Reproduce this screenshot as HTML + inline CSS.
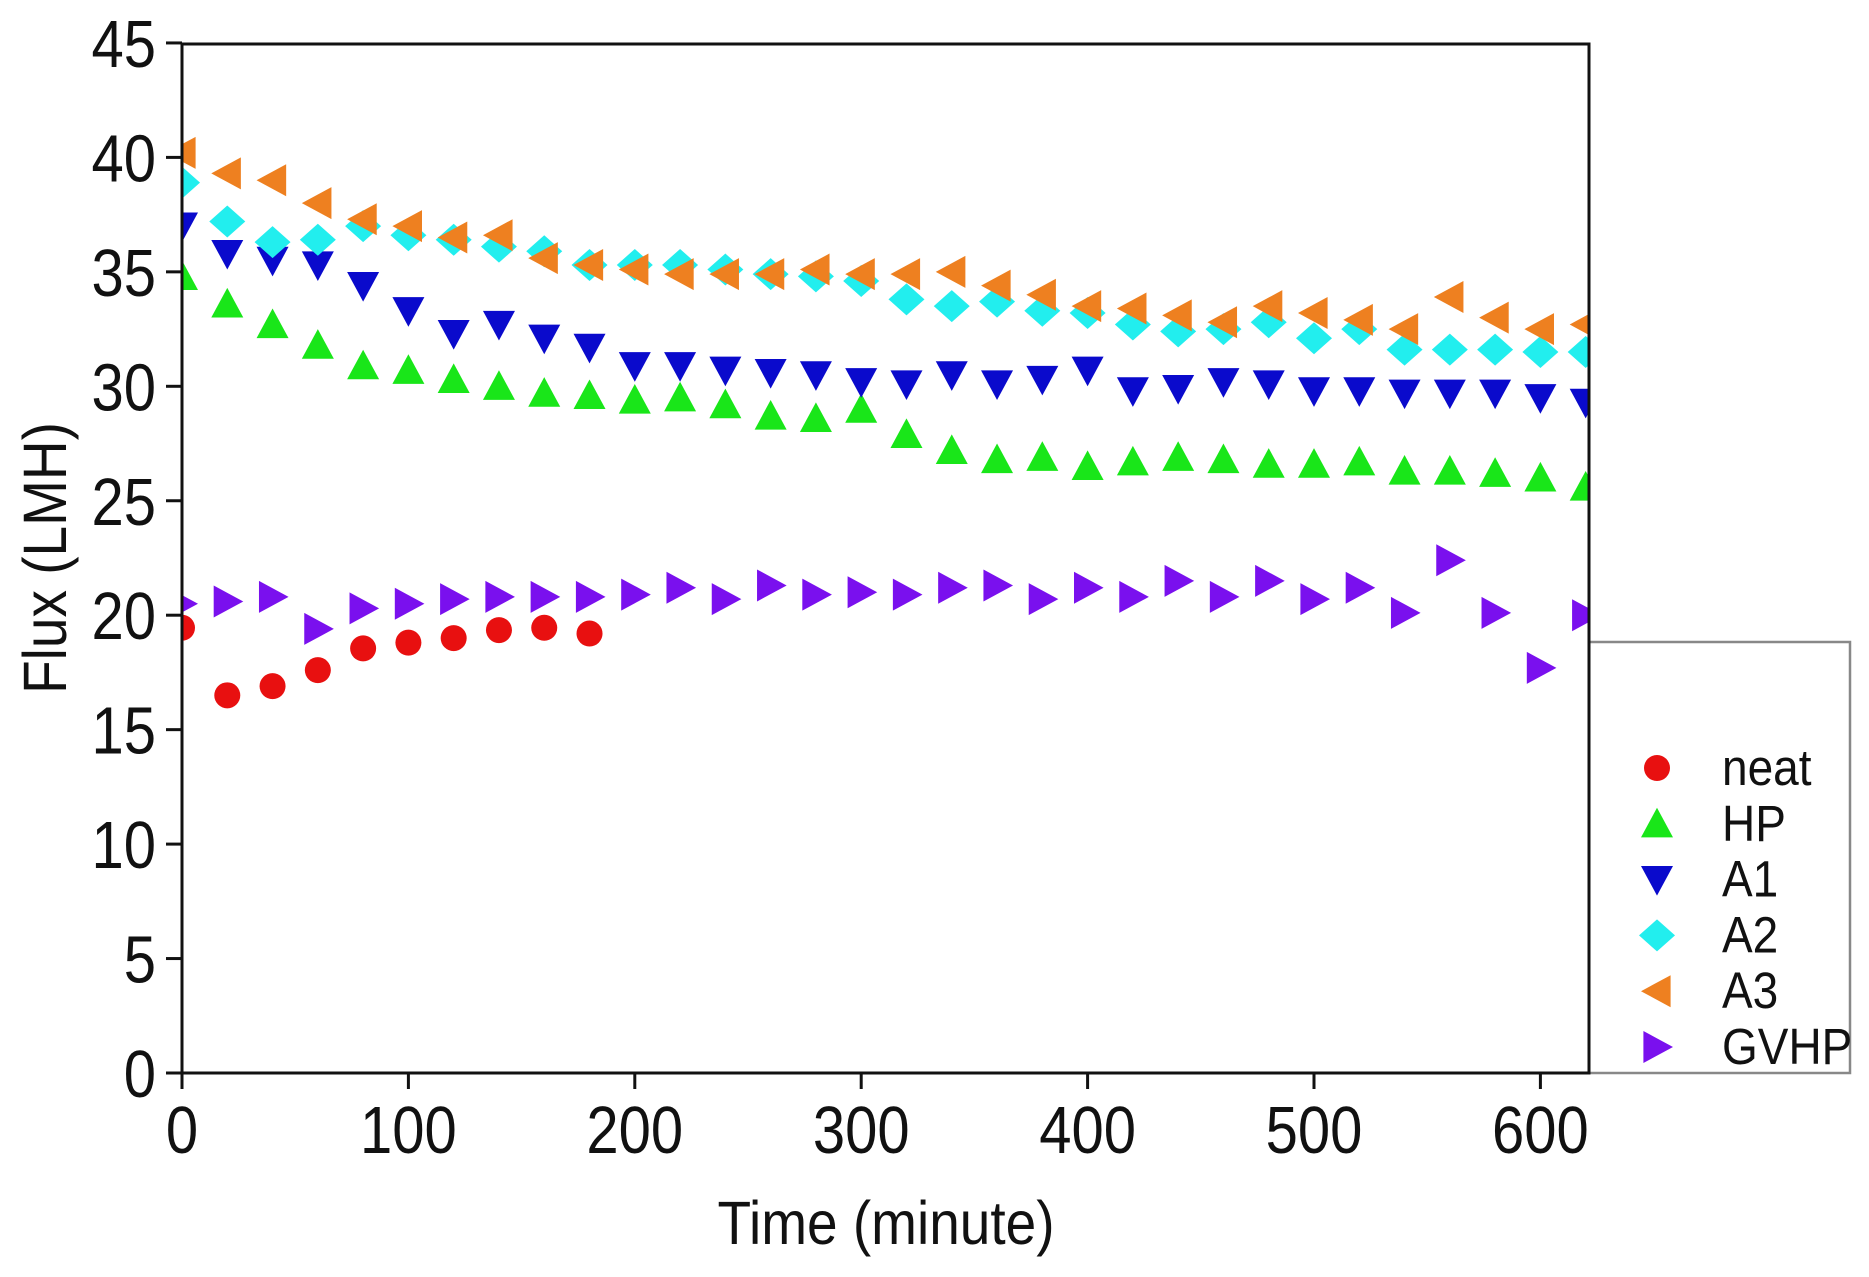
<!DOCTYPE html>
<html><head><meta charset="utf-8">
<style>
html,body{margin:0;padding:0;background:#fff;}
svg{display:block;font-family:"Liberation Sans",Arial,sans-serif;}
</style></head>
<body>
<svg id="chart" width="1869" height="1277" viewBox="0 0 1869 1277" xmlns="http://www.w3.org/2000/svg">
<defs><clipPath id="plotclip"><rect x="182" y="44" width="1407" height="1029"/></clipPath></defs>
<rect x="1589" y="642" width="261" height="431" fill="#fff" stroke="#888" stroke-width="2.5"/>
<g id="marks" clip-path="url(#plotclip)"></g>
<rect x="182" y="44" width="1407" height="1029" fill="none" stroke="#111" stroke-width="3"/>
<g id="axes"></g>
<text transform="translate(66,558) rotate(-90) scale(1,1.12)" text-anchor="middle" font-size="55" fill="#111">Flux (LMH)</text>
<text transform="translate(886,1244) scale(1,1.12)" text-anchor="middle" font-size="55" fill="#111">Time (minute)</text>
<g id="legend"></g>
</svg>
<script>
const times = [0,20,40,60,80,100,120,140,160,180,200,220,240,260,280,300,320,340,360,380,400,420,440,460,480,500,520,540,560,580,600,620];
const neat = [19.45,16.5,16.9,17.6,18.55,18.8,19.0,19.35,19.45,19.2];
const hp = [34.8,33.6,32.7,31.8,30.9,30.7,30.3,30.0,29.7,29.6,29.4,29.5,29.2,28.7,28.6,29.0,27.9,27.2,26.8,26.9,26.5,26.7,26.9,26.8,26.6,26.6,26.7,26.3,26.3,26.2,26.0,25.6];
const a1 = [37.0,35.8,35.5,35.3,34.4,33.3,32.3,32.7,32.1,31.7,30.9,30.9,30.7,30.6,30.5,30.2,30.1,30.5,30.1,30.3,30.7,29.8,29.9,30.2,30.1,29.8,29.8,29.7,29.7,29.7,29.5,29.3];
const a2 = [38.9,37.2,36.3,36.4,37.0,36.6,36.4,36.1,35.9,35.3,35.3,35.3,35.1,34.9,34.8,34.6,33.8,33.5,33.7,33.3,33.2,32.7,32.4,32.5,32.8,32.1,32.5,31.6,31.6,31.6,31.5,31.5];
const a3 = [40.2,39.3,39.0,38.0,37.3,37.0,36.5,36.6,35.6,35.3,35.1,34.9,34.9,34.9,35.1,34.9,34.9,35.0,34.4,34.0,33.5,33.4,33.1,32.8,33.5,33.2,32.9,32.5,33.9,33.0,32.5,32.7];
const gvhp = [20.5,20.6,20.8,19.4,20.3,20.5,20.7,20.8,20.8,20.8,20.9,21.2,20.7,21.3,20.9,21.0,20.9,21.2,21.3,20.7,21.2,20.8,21.5,20.8,21.5,20.7,21.2,20.1,22.4,20.1,17.7,20.0];
const xTicks = [0,100,200,300,400,500,600];
const yTicks = [0,5,10,15,20,25,30,35,40,45];
const seriesNames = ["neat","HP","A1","A2","A3","GVHP"];

const NS="http://www.w3.org/2000/svg";
const X0=182, XPX=2.264, Y0=1073, YPX=22.89;
function sx(v){return X0+v*XPX;}
function sy(v){return Y0-v*YPX;}
const colors=["#e81010","#19e619","#0a0acc","#22eeee","#ee8020","#7a10ee"];
const shapes=["circle","up","down","diamond","left","right"];
function marker(parent,shape,cx,cy,color,name){
  let el;
  if(shape==="circle"){el=document.createElementNS(NS,"circle");el.setAttribute("cx",cx);el.setAttribute("cy",cy);el.setAttribute("r",13);}
  else{
    el=document.createElementNS(NS,"polygon");
    const s=16; let p;
    if(shape==="up")p=[[cx,cy-s],[cx+s,cy+s*0.85],[cx-s,cy+s*0.85]];
    else if(shape==="down")p=[[cx-s,cy-s*0.85],[cx+s,cy-s*0.85],[cx,cy+s]];
    else if(shape==="left")p=[[cx-s,cy],[cx+s*0.85,cy-s],[cx+s*0.85,cy+s]];
    else if(shape==="right")p=[[cx+s,cy],[cx-s*0.85,cy-s],[cx-s*0.85,cy+s]];
    else p=[[cx,cy-16],[cx+18,cy],[cx,cy+16],[cx-18,cy]];
    el.setAttribute("points",p.map(q=>q.join(",")).join(" "));
  }
  el.setAttribute("fill",color);
  
  
  parent.appendChild(el);
}
const marks=document.getElementById("marks");
const allSeries=[neat,hp,a1,a2,a3,gvhp];
allSeries.forEach((ser,si)=>{
  const g=document.createElementNS(NS,"g");
  
  
  marks.appendChild(g);
  ser.forEach((v,i)=>marker(g,shapes[si],sx(times[i]),sy(v),colors[si],'point-'+seriesNames[si].toLowerCase()));
});
const axes=document.getElementById("axes");
function line(x1,y1,x2,y2,name){
  const l=document.createElementNS(NS,"line");
  l.setAttribute("x1",x1);l.setAttribute("y1",y1);l.setAttribute("x2",x2);l.setAttribute("y2",y2);
  l.setAttribute("stroke","#111");l.setAttribute("stroke-width",3);
  
  
  axes.appendChild(l);
}
function text(x,y,str,anchor,size,sy_,name,parent){
  const t=document.createElementNS(NS,"text");
  t.setAttribute("transform","translate("+x+","+y+") scale(1,"+sy_+")");
  t.setAttribute("text-anchor",anchor);
  t.setAttribute("font-size",size);t.setAttribute("fill","#111");
  t.textContent=str;
  
  
  (parent||axes).appendChild(t);
}
xTicks.forEach(v=>{line(sx(v),Y0,sx(v),Y0+16,'x-tick');text(sx(v),Y0+80,String(v),"middle",58,1.15,'x-tick-label');});
yTicks.forEach(v=>{line(X0-16,sy(v),X0,sy(v),'y-tick');text(X0-26,sy(v)+24,String(v),"end",58,1.15,'y-tick-label');});
const leg=document.getElementById("legend");
seriesNames.forEach((n,i)=>{
  const y=768+i*55.8;
  const g=document.createElementNS(NS,"g");
  
  
  leg.appendChild(g);
  marker(g,shapes[i],1657,y,colors[i],'legend-marker');
  text(1722,y+17,n,"start",46,1.1,'legend-label',g);
});
</script>
</body></html>
